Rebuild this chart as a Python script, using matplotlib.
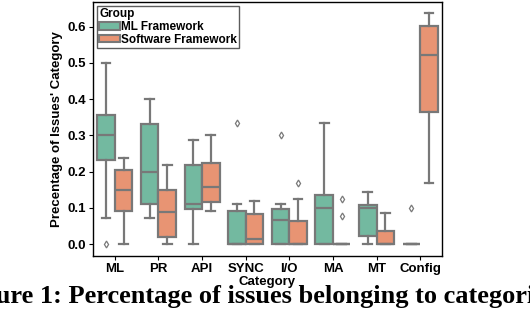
import matplotlib
matplotlib.use('Agg')
import matplotlib.pyplot as plt
from matplotlib.patches import Patch

plt.rcParams['font.family'] = ['Liberation Sans', 'DejaVu Sans']

# categories and box statistics
categories = ['ML', 'PR', 'API', 'SYNC', 'I/O', 'MA', 'MT', 'Config']
groups = ['ML Framework', 'Software Framework']

# ML Framework
ml_whislo = [0.071, 0.071, 0.0, 0.0, 0.0, 0.0, 0.0, 0.0]
ml_q1 = [0.231, 0.111, 0.098, 0.0, 0.0, 0.0, 0.023, 0.0]
ml_med = [0.300, 0.198, 0.111, 0.0, 0.067, 0.100, 0.100, 0.0]
ml_q3 = [0.357, 0.330, 0.217, 0.092, 0.097, 0.136, 0.109, 0.0]
ml_whishi = [0.500, 0.400, 0.286, 0.111, 0.111, 0.334, 0.143, 0.0]
ml_fliers = [[0.0], [], [], [0.333], [0.30], [], [], [0.10]]

# Software Framework
sw_whislo = [0.0, 0.0, 0.091, 0.0, 0.0, 0.0, 0.0, 0.168]
sw_q1 = [0.092, 0.019, 0.116, 0.0, 0.0, 0.0, 0.0, 0.364]
sw_med = [0.148, 0.089, 0.157, 0.014, 0.0, 0.0, 0.0, 0.523]
sw_q3 = [0.205, 0.150, 0.225, 0.083, 0.0625, 0.0, 0.035, 0.601]
sw_whishi = [0.238, 0.217, 0.300, 0.120, 0.125, 0.0, 0.086, 0.638]
sw_fliers = [[], [], [], [], [0.168], [0.125, 0.078], [], []]

colors = ['#73b9a0', '#e89473']
line_c = '#787878'


def make_stats(lo, q1, med, q3, hi, fl):
    return [dict(whislo=a, q1=b, med=c, q3=d, whishi=e, fliers=f)
            for a, b, c, d, e, f in zip(lo, q1, med, q3, hi, fl)]


fig = plt.figure(figsize=(5.3, 3.12), dpi=100)
ax = fig.add_axes([93 / 530, 1 - 256 / 312, 349 / 530, 254 / 312])

all_stats = [make_stats(ml_whislo, ml_q1, ml_med, ml_q3, ml_whishi, ml_fliers),
             make_stats(sw_whislo, sw_q1, sw_med, sw_q3, sw_whishi, sw_fliers)]
offsets = [-0.2, 0.2]

for stats, off, col in zip(all_stats, offsets, colors):
    pos = [i + off for i in range(len(categories))]
    ax.bxp(stats, positions=pos, widths=0.4, patch_artist=True, manage_ticks=False,
           boxprops=dict(facecolor=col, edgecolor=line_c, linewidth=1.6),
           medianprops=dict(color=line_c, linewidth=1.6),
           whiskerprops=dict(color=line_c, linewidth=1.6),
           capprops=dict(color=line_c, linewidth=1.6),
           flierprops=dict(marker='d', markersize=3.5, markerfacecolor='none',
                           markeredgecolor=line_c, markeredgewidth=0.9))

ax.set_xlim(-0.5, len(categories) - 0.5)
ax.set_ylim(-0.033, 0.668)
ax.set_xticks(range(len(categories)))
ax.set_xticklabels(categories, fontsize=9.5, fontweight='bold')
ax.set_yticks([0.0, 0.1, 0.2, 0.3, 0.4, 0.5, 0.6])
ax.set_yticklabels(['0.0', '0.1', '0.2', '0.3', '0.4', '0.5', '0.6'], fontsize=9.5, fontweight='bold')
ax.tick_params(length=3, width=0.8, pad=2)
ax.set_xlabel('Category', fontsize=9.5, fontweight='bold', labelpad=1)
ax.set_ylabel("Precentage of Issues' Category", fontsize=9.5, fontweight='bold', labelpad=3)
for s in ax.spines.values():
    s.set_linewidth(1.0)

handles = [Patch(facecolor=c, edgecolor=line_c, linewidth=1.5) for c in colors]
leg = ax.legend(handles, groups, title='Group', loc='upper left', fontsize=8.5,
                title_fontsize=8.5, fancybox=False, edgecolor='#333333',
                borderaxespad=0.35, handlelength=1.7, handleheight=0.6,
                handletextpad=0.1, borderpad=0.2, labelspacing=0.05)
leg._legend_box.align = 'left'
leg.get_frame().set_linewidth(1.0)
for t in leg.get_texts():
    t.set_fontweight('bold')
leg.get_title().set_fontweight('bold')

# caption, cropped at both sides like the reference
fig.text(258 / 530, 1 - 296 / 312, 'Figure 1: Percentage of issues belonging to categories',
         family='Liberation Serif', fontsize=19, fontweight='bold', ha='center', va='center')

fig.savefig('out.png', dpi=100)
